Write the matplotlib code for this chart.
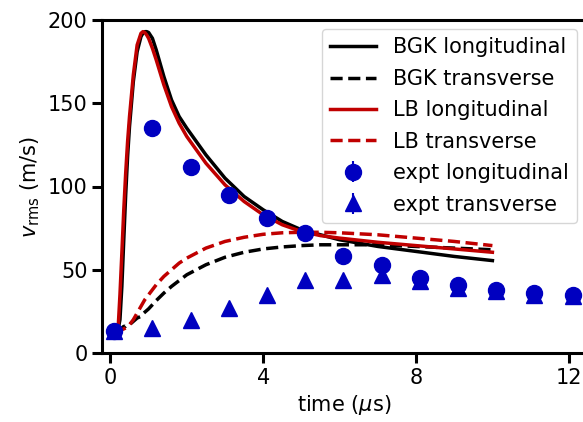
import numpy as np
import matplotlib.pyplot as plt

# simulation curves (time in us, v_rms in m/s)
t_sim = [0.1, 0.2, 0.25, 0.3, 0.35, 0.4, 0.45, 0.5, 0.6, 0.7, 0.8, 0.85, 0.9,
         0.95, 1.0, 1.1, 1.2, 1.4, 1.6, 1.8, 2.0, 2.5, 3.0, 3.5, 4.0, 4.5,
         5.0, 5.5, 6.0, 7.0, 8.0, 9.0, 10.0]
bgk_long = [15, 14, 20, 40, 68, 95, 118, 136, 163, 181, 190, 192, 193,
            193, 192.5, 189, 182, 166, 152, 142, 135, 119, 105, 94, 86, 79,
            74, 71, 68, 64, 61, 58, 55.5]
bgk_trans = [15, 15, 15, 15, 16, 16, 17, 17, 19, 21, 22, 23.5, 24.5,
             25.5, 26.5, 29, 31.5, 36, 40, 43.5, 47, 53, 57.5, 60.5, 62.5,
             63.7, 64.5, 65, 65, 65, 64, 63, 62]
lb_long = [15, 14, 35, 60, 86, 108, 127, 142, 167, 185, 192, 193, 192.5,
           191, 189, 183, 176, 161, 148, 138, 130, 114, 101, 91, 83, 77,
           73, 70.5, 69, 66.5, 64.5, 62.5, 60.5]
lb_trans = [15, 14, 14, 14, 14.5, 15, 16, 17, 20, 24, 28, 30, 32,
            33.5, 35, 38, 41, 46, 50, 54, 57, 63, 67, 69.5, 71.3, 72.2,
            72.5, 72.5, 72.2, 71, 69, 67, 64.5]

# experiment
t_exp = [0.1, 1.1, 2.1, 3.1, 4.1, 5.1, 6.1, 7.1, 8.1, 9.1, 10.1, 11.1, 12.1]
exp_long = [13, 135, 112, 95, 81, 72, 58, 53, 45, 41, 38, 36, 35]
exp_long_err = [2, 2, 2, 2, 2, 2, 2, 2, 2, 2, 2, 2, 2]
exp_trans = [13, 15, 20, 27, 35, 44, 44, 47, 43, 39, 37, 35, 34]
exp_trans_err = [2, 2, 2, 2, 2, 2, 2, 2, 2, 2, 2, 2, 2]

red = '#c00000'
blue = '#0000c0'
dash = (3.5, 1.6)

plt.rcParams['font.size'] = 15
fig = plt.figure(figsize=(5.83, 4.22), dpi=100)
# axes runs off the right edge of the figure, as in the original crop
ax = fig.add_axes([102 / 583, 1 - 353 / 422, 484 / 583, 333 / 422])

ax.plot(t_sim, bgk_long, color='k', lw=2.5, label='BGK longitudinal')
ax.plot(t_sim, bgk_trans, color='k', lw=2.5, ls='--', dashes=dash,
        label='BGK transverse')
ax.plot(t_sim, lb_long, color=red, lw=2.5, label='LB longitudinal')
ax.plot(t_sim, lb_trans, color=red, lw=2.5, ls='--', dashes=dash,
        label='LB transverse')
ax.errorbar(t_exp, exp_long, yerr=exp_long_err, fmt='o', color=blue, ms=11.5,
            elinewidth=1.5, label='expt longitudinal')
ax.errorbar(t_exp, exp_trans, yerr=exp_trans_err, fmt='^', color=blue, ms=11.5,
            elinewidth=1.5, label='expt transverse')

ax.set_xlim(-0.22, 12.45)
ax.set_ylim(0, 200)
ax.set_xticks([0, 4, 8, 12])
ax.set_yticks([0, 50, 100, 150, 200])
ax.set_xlabel(r'time ($\mu$s)')
ax.set_ylabel(r'$v_{\rm rms}$ (m/s)')
for s in ax.spines.values():
    s.set_linewidth(2.2)
ax.spines['right'].set_visible(False)
ax.tick_params(width=2.2, length=7)

ax.legend(loc='upper left', bbox_to_anchor=(322 / 583, 1 - 29 / 422),
          bbox_transform=fig.transFigure, borderaxespad=0, fontsize=15,
          handlelength=2.2, labelspacing=0.55)

fig.savefig('out.png', dpi=100)
